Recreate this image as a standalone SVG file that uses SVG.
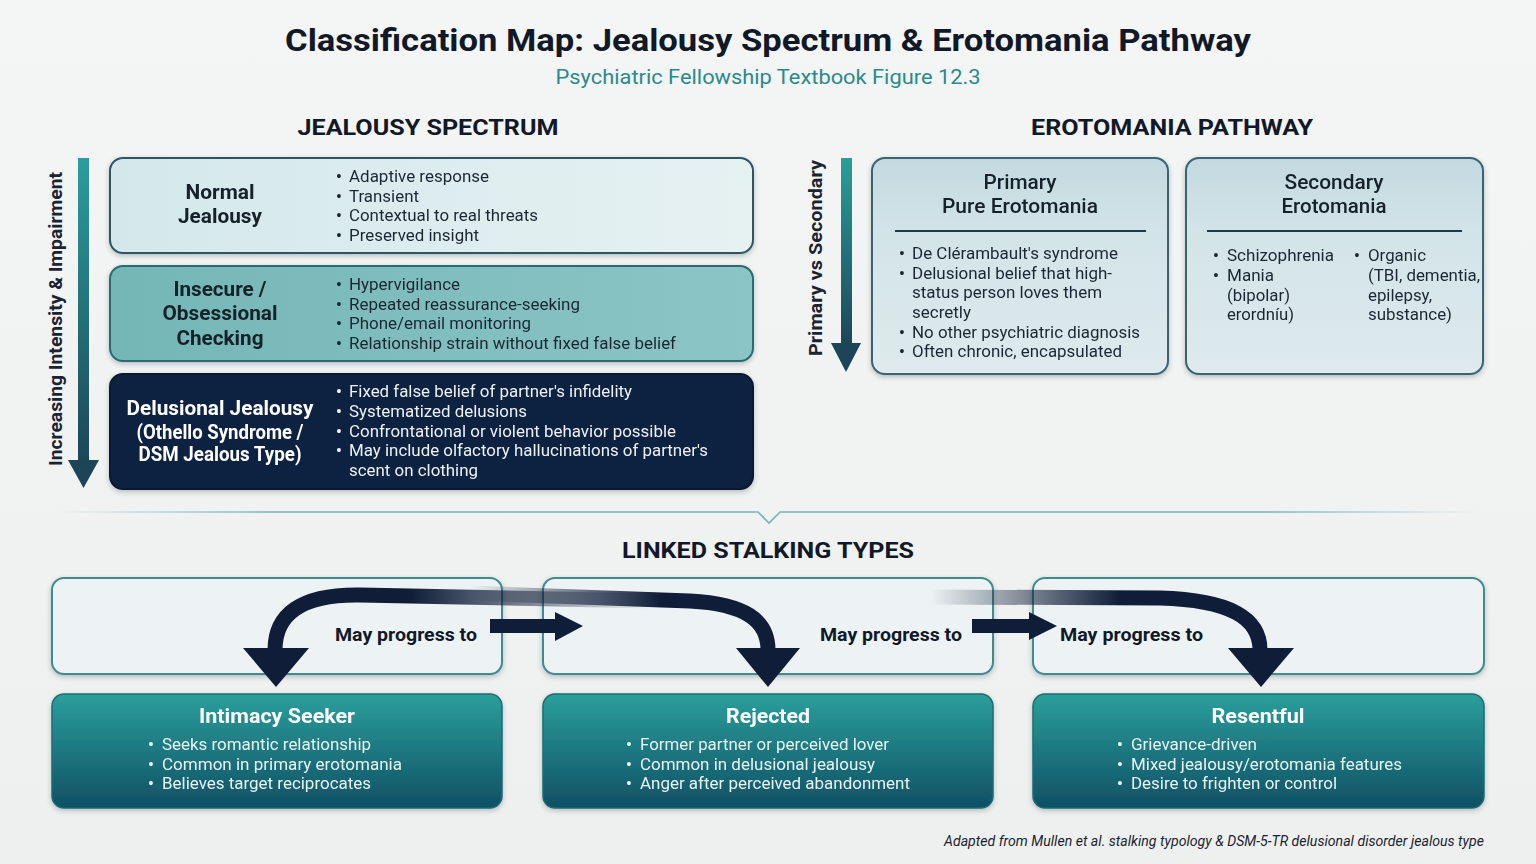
<svg xmlns="http://www.w3.org/2000/svg" width="1536" height="864" viewBox="0 0 1536 864">
  <defs>
    <style>
      text { font-family: Roboto, "Liberation Sans", Arial, sans-serif; }
      .title { font-size: 31px; font-weight: 700; fill: #111827; }
      .subtitle { font-size: 21px; font-weight: 400; fill: #2a8a8c; }
      .section { font-size: 22px; font-weight: 700; fill: #111827; }
      .axis { font-size: 18px; font-weight: 700; fill: #1a2430; }
      .boxtitle { font-size: 20px; font-weight: 700; fill: #15202c; }
      .boxtitle-w { font-size: 20px; font-weight: 700; fill: #ffffff; }
      .ptitle { font-size: 20px; font-weight: 500; fill: #15202c; }
      .item { font-size: 16px; fill: #1b2732; }
      .item-w { font-size: 16px; fill: #eef2f7; }
      .stitle { font-size: 21px; font-weight: 700; fill: #ffffff; }
      .sitem { font-size: 16px; fill: #e9f5f5; }
      .dot { font-weight: 700; }
      .prog { font-size: 19px; font-weight: 700; fill: #111827; }
      .foot { font-size: 14px; font-style: italic; fill: #1b2430; }
      .arrowfill { fill: #0f1d38; }
    </style>
    <filter id="shadow" x="-5%" y="-10%" width="110%" height="130%">
      <feDropShadow dx="0" dy="2" stdDeviation="2.5" flood-color="#1a2a35" flood-opacity="0.28"/>
    </filter>
    <linearGradient id="bg" x1="0" y1="0" x2="0" y2="1">
      <stop offset="0" stop-color="#f4f5f5"/>
      <stop offset="1" stop-color="#eef0f0"/>
    </linearGradient>
    <linearGradient id="gNormal" x1="0" y1="0" x2="1" y2="0">
      <stop offset="0" stop-color="#d4e8eb"/>
      <stop offset="1" stop-color="#e6f1f2"/>
    </linearGradient>
    <linearGradient id="gInsecure" x1="0" y1="0" x2="1" y2="0">
      <stop offset="0" stop-color="#74b6b7"/>
      <stop offset="1" stop-color="#8cc5c5"/>
    </linearGradient>
    <linearGradient id="gEroto" x1="0" y1="0" x2="0" y2="1">
      <stop offset="0" stop-color="#c3d9e0"/>
      <stop offset="0.35" stop-color="#d3e4e9"/>
      <stop offset="1" stop-color="#deeaed"/>
    </linearGradient>
    <linearGradient id="gStalk" x1="0" y1="0" x2="0" y2="1">
      <stop offset="0" stop-color="#2b9f9c"/>
      <stop offset="1" stop-color="#0f5064"/>
    </linearGradient>
    <linearGradient id="gAxis" x1="0" y1="0" x2="0" y2="1">
      <stop offset="0" stop-color="#2a9e9b"/>
      <stop offset="1" stop-color="#1c4658"/>
    </linearGradient>
    <linearGradient id="gDivider" x1="60" y1="0" x2="1476" y2="0" gradientUnits="userSpaceOnUse">
      <stop offset="0" stop-color="#6aaeb0" stop-opacity="0"/>
      <stop offset="0.15" stop-color="#6aaeb0" stop-opacity="0.9"/>
      <stop offset="0.85" stop-color="#6aaeb0" stop-opacity="0.9"/>
      <stop offset="1" stop-color="#6aaeb0" stop-opacity="0"/>
    </linearGradient>
    <linearGradient id="gCurve1" x1="650" y1="0" x2="410" y2="0" gradientUnits="userSpaceOnUse">
      <stop offset="0" stop-color="#0f1d38" stop-opacity="0"/>
      <stop offset="1" stop-color="#0f1d38" stop-opacity="1"/>
    </linearGradient>
    <linearGradient id="gCurve2" x1="470" y1="0" x2="660" y2="0" gradientUnits="userSpaceOnUse">
      <stop offset="0" stop-color="#0f1d38" stop-opacity="0"/>
      <stop offset="1" stop-color="#0f1d38" stop-opacity="1"/>
    </linearGradient>
    <linearGradient id="gCurve3" x1="930" y1="0" x2="1120" y2="0" gradientUnits="userSpaceOnUse">
      <stop offset="0" stop-color="#0f1d38" stop-opacity="0"/>
      <stop offset="1" stop-color="#0f1d38" stop-opacity="1"/>
    </linearGradient>
  </defs>

  <rect x="0" y="0" width="1536" height="864" fill="url(#bg)"/>

  <!-- Headings -->
  <g id="header">
    <text class="title" x="768" y="51" text-anchor="middle" textLength="966" lengthAdjust="spacingAndGlyphs">Classification Map: Jealousy Spectrum &amp; Erotomania Pathway</text>
    <text class="subtitle" x="768" y="84" text-anchor="middle" textLength="425" lengthAdjust="spacingAndGlyphs">Psychiatric Fellowship Textbook Figure 12.3</text>
    <text class="section" x="428" y="135" text-anchor="middle" textLength="261" lengthAdjust="spacingAndGlyphs">JEALOUSY SPECTRUM</text>
    <text class="section" x="1172" y="135" text-anchor="middle" textLength="282" lengthAdjust="spacingAndGlyphs">EROTOMANIA PATHWAY</text>
  </g>

  <!-- Severity axis (jealousy) -->
  <g id="axis-intensity">
    <rect x="78" y="158" width="11" height="304" fill="url(#gAxis)"/>
    <polygon points="68,460 99,460 83.5,488" fill="#1c4658"/>
    <text class="axis" transform="translate(62,319) rotate(-90)" text-anchor="middle" textLength="294" lengthAdjust="spacingAndGlyphs">Increasing Intensity &amp; Impairment</text>
  </g>

  <!-- Jealousy spectrum -->
  <g id="normal-jealousy" filter="url(#shadow)">
    <rect x="110" y="158" width="643" height="95" rx="13" fill="url(#gNormal)" stroke="#2f5661" stroke-width="2"/>
    <text class="boxtitle" x="220" y="199" text-anchor="middle" textLength="69" lengthAdjust="spacingAndGlyphs">Normal</text>
    <text class="boxtitle" x="220" y="223" text-anchor="middle" textLength="84" lengthAdjust="spacingAndGlyphs">Jealousy</text>
    <text class="item dot" x="336" y="182">•</text><text class="item" x="349" y="182" textLength="140" lengthAdjust="spacingAndGlyphs">Adaptive response</text>
    <text class="item dot" x="336" y="202">•</text><text class="item" x="349" y="202" textLength="70" lengthAdjust="spacingAndGlyphs">Transient</text>
    <text class="item dot" x="336" y="221">•</text><text class="item" x="349" y="221" textLength="189" lengthAdjust="spacingAndGlyphs">Contextual to real threats</text>
    <text class="item dot" x="336" y="241">•</text><text class="item" x="349" y="241" textLength="130" lengthAdjust="spacingAndGlyphs">Preserved insight</text>
  </g>

  <g id="insecure-checking" filter="url(#shadow)">
    <rect x="110" y="266" width="643" height="95" rx="13" fill="url(#gInsecure)" stroke="#2c6a70" stroke-width="2"/>
    <text class="boxtitle" x="220" y="296" text-anchor="middle" textLength="93" lengthAdjust="spacingAndGlyphs">Insecure /</text>
    <text class="boxtitle" x="220" y="320" text-anchor="middle" textLength="115" lengthAdjust="spacingAndGlyphs">Obsessional</text>
    <text class="boxtitle" x="220" y="345" text-anchor="middle" textLength="87" lengthAdjust="spacingAndGlyphs">Checking</text>
    <text class="item dot" x="336" y="290">•</text><text class="item" x="349" y="290" textLength="111" lengthAdjust="spacingAndGlyphs">Hypervigilance</text>
    <text class="item dot" x="336" y="310">•</text><text class="item" x="349" y="310" textLength="231" lengthAdjust="spacingAndGlyphs">Repeated reassurance-seeking</text>
    <text class="item dot" x="336" y="329">•</text><text class="item" x="349" y="329" textLength="182" lengthAdjust="spacingAndGlyphs">Phone/email monitoring</text>
    <text class="item dot" x="336" y="349">•</text><text class="item" x="349" y="349" textLength="327" lengthAdjust="spacingAndGlyphs">Relationship strain without fixed false belief</text>
  </g>

  <g id="delusional-jealousy" filter="url(#shadow)">
    <rect x="110" y="374" width="643" height="115" rx="13" fill="#0e2140" stroke="#0a1830" stroke-width="2"/>
    <text class="boxtitle-w" x="220" y="415" text-anchor="middle" textLength="187" lengthAdjust="spacingAndGlyphs">Delusional Jealousy</text>
    <text class="boxtitle-w" x="220" y="439" text-anchor="middle" textLength="167" lengthAdjust="spacingAndGlyphs">(Othello Syndrome /</text>
    <text class="boxtitle-w" x="220" y="461" text-anchor="middle" textLength="163" lengthAdjust="spacingAndGlyphs">DSM Jealous Type)</text>
    <text class="item-w dot" x="336" y="397">•</text><text class="item-w" x="349" y="397" textLength="283" lengthAdjust="spacingAndGlyphs">Fixed false belief of partner's infidelity</text>
    <text class="item-w dot" x="336" y="417">•</text><text class="item-w" x="349" y="417" textLength="178" lengthAdjust="spacingAndGlyphs">Systematized delusions</text>
    <text class="item-w dot" x="336" y="437">•</text><text class="item-w" x="349" y="437" textLength="327" lengthAdjust="spacingAndGlyphs">Confrontational or violent behavior possible</text>
    <text class="item-w dot" x="336" y="456">•</text><text class="item-w" x="349" y="456" textLength="359" lengthAdjust="spacingAndGlyphs">May include olfactory hallucinations of partner's</text>
    <text class="item-w" x="349" y="476" textLength="129" lengthAdjust="spacingAndGlyphs">scent on clothing</text>
  </g>

  <!-- Erotomania axis -->
  <g id="axis-primary-secondary">
    <rect x="841" y="158" width="11" height="187" fill="url(#gAxis)"/>
    <polygon points="831,343 861,343 846,372" fill="#1c4658"/>
    <text class="axis" transform="translate(822,258) rotate(-90)" text-anchor="middle" textLength="196" lengthAdjust="spacingAndGlyphs">Primary vs Secondary</text>
  </g>

  <g id="primary-erotomania" filter="url(#shadow)">
    <rect x="872" y="158" width="296" height="216" rx="13" fill="url(#gEroto)" stroke="#3a6470" stroke-width="2"/>
    <text class="ptitle" x="1020" y="189" text-anchor="middle" textLength="73" lengthAdjust="spacingAndGlyphs">Primary</text>
    <text class="ptitle" x="1020" y="213" text-anchor="middle" textLength="156" lengthAdjust="spacingAndGlyphs">Pure Erotomania</text>
    <line x1="895" y1="231" x2="1146" y2="231" stroke="#1f3b48" stroke-width="2"/>
    <text class="item dot" x="899" y="259">•</text><text class="item" x="912" y="259" textLength="206" lengthAdjust="spacingAndGlyphs">De Clérambault's syndrome</text>
    <text class="item dot" x="899" y="279">•</text><text class="item" x="912" y="279" textLength="200" lengthAdjust="spacingAndGlyphs">Delusional belief that high-</text>
    <text class="item" x="912" y="298" textLength="190" lengthAdjust="spacingAndGlyphs">status person loves them</text>
    <text class="item" x="912" y="318" textLength="59" lengthAdjust="spacingAndGlyphs">secretly</text>
    <text class="item dot" x="899" y="338">•</text><text class="item" x="912" y="338" textLength="228" lengthAdjust="spacingAndGlyphs">No other psychiatric diagnosis</text>
    <text class="item dot" x="899" y="357">•</text><text class="item" x="912" y="357" textLength="210" lengthAdjust="spacingAndGlyphs">Often chronic, encapsulated</text>
  </g>

  <g id="secondary-erotomania" filter="url(#shadow)">
    <rect x="1186" y="158" width="297" height="216" rx="13" fill="url(#gEroto)" stroke="#3a6470" stroke-width="2"/>
    <text class="ptitle" x="1334" y="189" text-anchor="middle" textLength="99" lengthAdjust="spacingAndGlyphs">Secondary</text>
    <text class="ptitle" x="1334" y="213" text-anchor="middle" textLength="105" lengthAdjust="spacingAndGlyphs">Erotomania</text>
    <line x1="1207" y1="231" x2="1462" y2="231" stroke="#1f3b48" stroke-width="2"/>
    <text class="item dot" x="1213" y="261">•</text><text class="item" x="1227" y="261" textLength="107" lengthAdjust="spacingAndGlyphs">Schizophrenia</text>
    <text class="item dot" x="1213" y="281">•</text><text class="item" x="1227" y="281" textLength="47" lengthAdjust="spacingAndGlyphs">Mania</text>
    <text class="item" x="1227" y="301" textLength="63" lengthAdjust="spacingAndGlyphs">(bipolar)</text>
    <text class="item" x="1227" y="320" textLength="67" lengthAdjust="spacingAndGlyphs">erordníu)</text>
    <text class="item dot" x="1354" y="261">•</text><text class="item" x="1368" y="261" textLength="58" lengthAdjust="spacingAndGlyphs">Organic</text>
    <text class="item" x="1368" y="281" textLength="112" lengthAdjust="spacingAndGlyphs">(TBI, dementia,</text>
    <text class="item" x="1368" y="301" textLength="64" lengthAdjust="spacingAndGlyphs">epilepsy,</text>
    <text class="item" x="1368" y="320" textLength="84" lengthAdjust="spacingAndGlyphs">substance)</text>
  </g>

  <!-- Section divider -->
  <g id="divider">
    <polyline points="60,512 758,512 769,523 780,512 1476,512" fill="none" stroke="url(#gDivider)" stroke-width="1.6"/>
    <text class="section" x="768" y="558" text-anchor="middle" textLength="292" lengthAdjust="spacingAndGlyphs">LINKED STALKING TYPES</text>
  </g>

  <!-- Progression lanes -->
  <g id="lanes">
    <rect x="52" y="578" width="450" height="96" rx="12" fill="#edf3f4" stroke="#3f8b8d" stroke-width="2" filter="url(#shadow)"/>
    <rect x="543" y="578" width="450" height="96" rx="12" fill="#edf3f4" stroke="#3f8b8d" stroke-width="2" filter="url(#shadow)"/>
    <rect x="1033" y="578" width="451" height="96" rx="12" fill="#edf3f4" stroke="#3f8b8d" stroke-width="2" filter="url(#shadow)"/>
  </g>

  <!-- Stalking types -->
  <g id="intimacy-seeker" filter="url(#shadow)">
    <rect x="52" y="694" width="450" height="114" rx="12" fill="url(#gStalk)" stroke="#1b6c72" stroke-width="1.5"/>
    <text class="stitle" x="277" y="723" text-anchor="middle" textLength="156" lengthAdjust="spacingAndGlyphs">Intimacy Seeker</text>
    <text class="sitem dot" x="148" y="750">•</text><text class="sitem" x="162" y="750" textLength="209" lengthAdjust="spacingAndGlyphs">Seeks romantic relationship</text>
    <text class="sitem dot" x="148" y="770">•</text><text class="sitem" x="162" y="770" textLength="240" lengthAdjust="spacingAndGlyphs">Common in primary erotomania</text>
    <text class="sitem dot" x="148" y="789">•</text><text class="sitem" x="162" y="789" textLength="209" lengthAdjust="spacingAndGlyphs">Believes target reciprocates</text>
  </g>

  <g id="rejected" filter="url(#shadow)">
    <rect x="543" y="694" width="450" height="114" rx="12" fill="url(#gStalk)" stroke="#1b6c72" stroke-width="1.5"/>
    <text class="stitle" x="768" y="723" text-anchor="middle" textLength="84" lengthAdjust="spacingAndGlyphs">Rejected</text>
    <text class="sitem dot" x="626" y="750">•</text><text class="sitem" x="640" y="750" textLength="249" lengthAdjust="spacingAndGlyphs">Former partner or perceived lover</text>
    <text class="sitem dot" x="626" y="770">•</text><text class="sitem" x="640" y="770" textLength="235" lengthAdjust="spacingAndGlyphs">Common in delusional jealousy</text>
    <text class="sitem dot" x="626" y="789">•</text><text class="sitem" x="640" y="789" textLength="270" lengthAdjust="spacingAndGlyphs">Anger after perceived abandonment</text>
  </g>

  <g id="resentful" filter="url(#shadow)">
    <rect x="1033" y="694" width="451" height="114" rx="12" fill="url(#gStalk)" stroke="#1b6c72" stroke-width="1.5"/>
    <text class="stitle" x="1258" y="723" text-anchor="middle" textLength="93" lengthAdjust="spacingAndGlyphs">Resentful</text>
    <text class="sitem dot" x="1117" y="750">•</text><text class="sitem" x="1131" y="750" textLength="126" lengthAdjust="spacingAndGlyphs">Grievance-driven</text>
    <text class="sitem dot" x="1117" y="770">•</text><text class="sitem" x="1131" y="770" textLength="271" lengthAdjust="spacingAndGlyphs">Mixed jealousy/erotomania features</text>
    <text class="sitem dot" x="1117" y="789">•</text><text class="sitem" x="1131" y="789" textLength="206" lengthAdjust="spacingAndGlyphs">Desire to frighten or control</text>
  </g>

  <!-- Connectors -->
  <g id="connectors">
    <path d="M 650 601 L 360 595 C 300 594 275 615 275 650" fill="none" stroke="url(#gCurve1)" stroke-width="15"/>
    <polygon class="arrowfill" points="243,648 309,648 276,687"/>

    <path d="M 470 593 L 690 601 C 745 604 768 620 768 650" fill="none" stroke="url(#gCurve2)" stroke-width="15"/>
    <polygon class="arrowfill" points="736,648 800,648 768,687"/>

    <path d="M 930 597 L 1160 598 C 1230 600 1260 618 1260 650" fill="none" stroke="url(#gCurve3)" stroke-width="15"/>
    <polygon class="arrowfill" points="1228,648 1294,648 1261,687"/>

    <rect class="arrowfill" x="490" y="619" width="67" height="14"/>
    <polygon class="arrowfill" points="555,612 583,626 555,641"/>
    <rect class="arrowfill" x="972" y="619" width="58" height="14"/>
    <polygon class="arrowfill" points="1029,612 1057,626 1029,640"/>

    <text class="prog" x="335" y="641" textLength="142" lengthAdjust="spacingAndGlyphs">May progress to</text>
    <text class="prog" x="820" y="641" textLength="142" lengthAdjust="spacingAndGlyphs">May progress to</text>
    <text class="prog" x="1060" y="641" textLength="143" lengthAdjust="spacingAndGlyphs">May progress to</text>
  </g>

  <text class="foot" x="1484" y="846" text-anchor="end" textLength="540" lengthAdjust="spacingAndGlyphs">Adapted from Mullen et al. stalking typology &amp; DSM-5-TR delusional disorder jealous type</text>
</svg>
